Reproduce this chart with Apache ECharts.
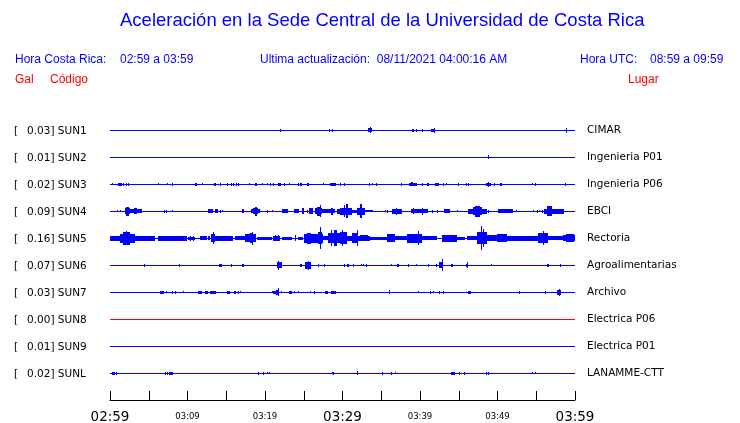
<!DOCTYPE html>
<html><head><meta charset="utf-8">
<script src="https://cdn.jsdelivr.net/npm/echarts@6/dist/echarts.min.js"></script>
<style>html,body{margin:0;padding:0;background:#fff}#c{width:740px;height:423px}</style>
</head><body><div id="c"></div>
<script>
const codes = ['SUN1','SUN2','SUN3','SUN4','SUN5','SUN6','SUN7','SUN8','SUN9','SUNL'];
const peaks = ['0.03','0.01','0.02','0.09','0.16','0.07','0.03','0.00','0.01','0.02'];
const places = ['CIMAR','Ingenieria P01','Ingenieria P06','EBCI','Rectoria','Agroalimentarias','Archivo','Electrica P06','Electrica P01','LANAMME-CTT'];
const timeLabels = ['02:59','03:09','03:19','03:29','03:39','03:49','03:59'];
const traceColors = ['#0000ff','#0000ff','#0000ff','#0000ff','#0000ff','#0000ff','#0000ff','#ff0000','#0000ff','#0000ff'];

// events: [start minute, end minute, half amplitude]
const sun1 = [[21.98,21.98,1.5],[28.2,28.4,1.3],[28.6,28.6,1.3],[33.3,33.75,2],[33.5,33.5,3],[38.97,39.2,1.5],[39.5,39.5,1.5],[40.2,40.2,1.5],[41.4,41.8,1.5],[41.75,41.75,2.5],[58.8,58.8,2.5]];
const sun2 = [[48.8,48.8,1.8]];
const sun3 = [[0.30,0.30,1],[0.99,1.51,1.5],[1.72,1.72,1.5],[2.02,2.11,1.5],[2.28,2.28,1.5],[6.24,6.24,1],[7.31,7.31,1],[7.96,7.96,1.5],[10.97,11.18,1.5],[11.91,11.91,1],[13.46,13.63,1.5],[14.15,14.15,1.5],[15.14,15.14,1.5],[15.57,15.57,1.5],[15.83,15.96,1.5],[16.26,16.26,1.5],[16.56,16.56,1.5],[17.98,17.98,1],[18.71,18.92,1.5],[19.57,19.57,1],[20.22,20.22,1],[20.65,20.73,1.5],[21.08,21.08,1.5],[21.63,22.02,1.5],[22.41,22.41,1.5],[23.14,23.14,1],[24.22,24.22,1.5],[24.52,24.73,1.5],[25.42,25.72,1.5],[27.44,27.44,1],[28.43,29.2,1.5],[29.63,29.63,1.5],[30.15,30.15,1.5],[33.46,33.46,1.5],[33.85,33.85,1],[34.32,34.32,1.5],[37.59,37.59,1.5],[38.62,39.66,1.5],[38.9,39.1,2],[40.3,40.3,1.5],[40.9,41.1,1.5],[41.98,42.41,1.5],[42.92,42.92,1.5],[43.35,43.35,1],[44.95,44.95,1.5],[45.94,45.94,1.5],[46.24,46.24,1.5],[48.52,49.12,1.5],[48.75,48.95,2.5],[49.59,49.59,1.5],[50.32,50.58,1.5],[54.49,54.49,1],[54.8,54.8,1.5],[58.67,58.67,1.5]];
const sun4 = [[0.9,0.9,1],[1.25,1.25,1],[1.94,2.58,3],[2.1,2.4,4.5],[2.58,4.09,2],[3.14,3.44,3],[7.01,7.01,1.5],[7.23,7.23,1.5],[7.96,7.96,1],[12.6,13.33,2],[13.55,13.89,2],[14.19,14.19,1.5],[14.49,14.49,1],[16.99,17.25,2],[18.19,19.35,2],[18.5,19.1,3],[18.71,19.01,4.5],[20.3,20.3,1.5],[20.86,20.86,1],[22.24,22.92,2],[23.78,24.43,2],[24.73,24.99,3],[25.42,25.42,1.5],[25.68,26.24,3],[26.45,27.31,3],[26.7,27.2,4.5],[27.05,27.15,6],[27.31,29.03,2],[28.51,28.72,3.5],[29.33,30.32,2.5],[30.15,30.32,6],[29.68,31.18,3.5],[30.45,30.75,7],[31.18,31.83,1.5],[31.83,32.9,3.5],[32.26,32.47,7],[32.9,33.98,1],[35.48,35.48,1],[35.7,35.7,1.5],[36.38,37.72,2.5],[36.86,37.08,3.5],[38.8,41.08,2],[39.14,39.14,3],[40.22,40.43,3.5],[41.59,41.59,1.5],[42.15,42.15,1.5],[43.1,43.87,2],[44.73,44.73,1],[46.24,48.6,2.5],[46.8,48.0,4],[47.1,47.74,5.5],[48.73,48.73,1.5],[50.11,52.04,2],[52.39,52.39,1],[54.54,54.54,1],[55.05,55.05,1.5],[55.4,55.4,1],[55.7,55.7,1.5],[56.0,58.58,2.5],[56.34,56.99,5]];
const sun5 = [[0,5.81,2.5],[1.29,3.23,4.5],[1.72,2.58,6.5],[2.0,2.1,7],[6.15,9.89,2.5],[10.0,10.97,1.5],[10.3,10.3,2.5],[10.7,10.7,2.5],[11.61,12.47,2],[12.7,12.85,2],[13.03,13.55,4],[13.33,13.33,6],[13.55,15.91,2.5],[16.13,17.42,2],[17.42,18.8,4],[18.0,18.5,5],[18.28,18.28,6.5],[18.92,20.86,1.5],[21.08,21.94,2.5],[21.3,21.3,3],[21.7,21.7,3],[22.15,23.44,1.5],[23.87,23.87,3],[24.3,24.94,1.5],[25.08,26.45,4.5],[25.4,25.9,5.5],[26.45,27.53,4.5],[26.8,27.3,6],[27.09,27.17,11],[27.53,28.17,2],[28.17,30.32,5],[28.47,28.47,8],[28.94,29.24,8],[29.68,30.54,6],[29.9,29.95,8],[30.54,31.18,2.5],[31.18,32.04,5],[31.83,31.83,8],[32.04,33.55,2.5],[32.3,33.3,3],[33.55,35.7,1.5],[35.7,36.77,4],[36.77,38.28,2],[38.28,40.22,4.5],[39.78,39.78,7],[40.22,42.15,2],[42.8,44.73,3.5],[44.73,45.81,1.5],[46.02,47.31,2],[47.31,48.6,6],[47.87,47.87,12],[48.17,48.17,9],[48.6,49.89,3],[49.89,51.18,4],[51.18,55.27,2.5],[55.27,56.56,5],[55.91,55.91,7],[56.56,58.49,2],[58.49,60,3],[58.9,59.9,4]];
const sun6 = [[4.43,4.43,1.5],[8.9,8.9,1.5],[14.06,14.41,1.5],[15.66,15.66,1.5],[17.08,17.33,1.5],[21.51,22.15,3],[21.72,21.72,4.5],[24.56,24.73,1.5],[25.16,25.94,3.5],[25.5,25.5,4.5],[26.88,26.88,1.5],[27.66,27.66,1.5],[30.15,30.15,1.5],[30.62,30.88,1.5],[31.31,31.31,1.5],[32.34,32.34,1],[32.69,32.69,1],[33.03,33.2,1.5],[36.26,36.26,1],[37.07,37.25,1.5],[38.41,38.54,1.5],[39.44,39.44,1],[41.08,41.21,1.5],[42.02,42.15,1.5],[42.41,43.01,3],[42.84,42.84,6],[44.04,44.21,1.5],[45.89,45.89,1.5],[46.02,46.24,2],[46.1,46.1,3],[49.16,49.16,1],[56.34,56.65,1.5],[58.11,58.11,1.5]];
const sun7 = [[6.49,6.93,1.5],[7.27,7.27,1],[8.04,8.04,1.5],[8.43,8.43,1.5],[9.46,9.46,1],[11.4,11.83,1.5],[12.26,12.6,1.5],[12.95,13.63,1.5],[15.05,15.44,1.5],[16.0,16.2,1.5],[16.52,16.52,1.5],[16.77,16.77,1],[20.86,20.86,1],[21.08,21.38,1.5],[21.46,21.81,2.5],[21.63,21.63,4],[22.02,22.02,1],[23.1,23.44,1.5],[23.78,23.78,1],[24.22,24.22,1],[25.85,25.85,1],[26.32,26.32,1.5],[27.74,28.09,1.5],[28.51,29.12,1.5],[36.0,36.0,2],[39.78,39.78,1],[41.29,41.29,1.5],[41.72,41.72,1],[42.41,42.41,1.5],[42.92,42.92,1.5],[46.15,46.54,1.5],[52.73,52.73,1.5],[56.13,56.13,1.5],[57.72,58.15,2.5],[57.9,57.9,3.5]];
const sun8 = [];
const sun9 = [];
const sunL = [[0.22,0.65,1.5],[0.82,0.82,1.5],[7.14,7.14,1.5],[7.4,7.4,1.5],[7.66,8.09,1.5],[19.14,19.14,1.5],[19.7,19.7,1.5],[20.3,20.3,1],[20.52,20.52,1],[28.6,28.6,1],[28.82,28.82,1.5],[31.91,31.91,2],[35.14,35.14,1.5],[36.3,36.3,1.5],[36.77,36.77,1],[44.0,44.52,1.5],[44.99,44.99,1.5],[45.68,45.85,1.5],[48.52,48.52,1.5],[48.77,48.77,1.5],[54.49,54.49,1],[54.83,54.83,1]];
const traces = [sun1,sun2,sun3,sun4,sun5,sun6,sun7,sun8,sun9,sunL];

const SPACING = 27;
const N = codes.length;
const baseOf = i => SPACING * (N - i);

const series = [];
traces.forEach((ev, i) => {
  const b = baseOf(i);
  const col = traceColors[i];
  series.push({
    type: 'custom', xAxisIndex: 0, yAxisIndex: 0, silent: true,
    data: [[0, 60, 0]].concat(ev), encode: { x: [0, 1] },
    renderItem: function (params, api) {
      const s = api.value(0), e = api.value(1), a = api.value(2);
      const pc = api.coord([s, b]);
      const pt = api.coord([s, b + a]);
      const pe = api.coord([e, b]);
      const aPx = pc[1] - pt[1];
      const c = Math.floor(pc[1]);
      const h = Math.max(1, Math.round(2 * aPx));
      const y = c - Math.floor(h / 2);
      const x = Math.round(pc[0]);
      const w = Math.max(1, Math.round(pe[0]) - x);
      return { type: 'rect', shape: { x: x, y: y, width: w, height: h }, style: { fill: col } };
    }
  });
});

const labelIndex = v => { const k = Math.round(v / SPACING); return (k >= 1 && k <= N) ? N - k : -1; };

const chart = echarts.init(document.getElementById('c'), null, { renderer: 'canvas' });
chart.setOption({
  animation: false,
  backgroundColor: '#ffffff',
  grid: { left: 110, right: 165, top: 103, bottom: 23, containLabel: false, outerBoundsMode: 'none' },
  xAxis: {
    type: 'value', min: 0, max: 60, interval: 5, offset: 9,
    axisLine: { show: true, lineStyle: { color: '#000', width: 1 } },
    axisTick: { show: true, inside: true, length: 9, lineStyle: { color: '#000', width: 1 } },
    splitLine: { show: false },
    axisLabel: {
      margin: 1, showMinLabel: true, showMaxLabel: true, hideOverlap: false,
      formatter: v => { if (v % 10 !== 0) return ''; const k = v / 10; const s = timeLabels[k]; return (k % 3 === 0) ? '{big|' + s + '}' : '{sm|' + s + '}'; },
      rich: {
        big: { fontFamily: 'DejaVu Sans', fontSize: 13.5, color: '#000', lineHeight: 15 },
        sm: { fontFamily: 'DejaVu Sans', fontSize: 8.5, color: '#000', lineHeight: 15, padding: [0,0,2,0] }
      }
    }
  },
  yAxis: [
    {
      type: 'value', min: 0, max: SPACING * (N + 1), interval: SPACING, position: 'left',
      axisLine: { show: false }, axisTick: { show: false }, splitLine: { show: false },
      axisLabel: {
        align: 'left', margin: 96, showMinLabel: true, showMaxLabel: true, hideOverlap: false,
        formatter: v => { const i = labelIndex(v); return i < 0 ? '' : '{a|[}{b|' + peaks[i] + '] ' + codes[i] + '}'; },
        rich: {
          a: { fontFamily: 'DejaVu Sans', fontSize: 10.5, color: '#000', width: 13, padding: [2,0,0,0] },
          b: { fontFamily: 'DejaVu Sans', fontSize: 10.5, color: '#000', padding: [2,0,0,0] }
        }
      }
    },
    {
      type: 'value', min: 0, max: SPACING * (N + 1), interval: SPACING, position: 'right',
      axisLine: { show: false }, axisTick: { show: false }, splitLine: { show: false },
      axisLabel: {
        margin: 12, showMinLabel: true, showMaxLabel: true, hideOverlap: false,
        fontFamily: 'DejaVu Sans', fontSize: 10.5, color: '#000', padding: [2,0,0,0],
        formatter: v => { const i = labelIndex(v); return i < 0 ? '' : places[i]; }
      }
    }
  ],
  graphic: [
    { type: 'text', left: 120, top: 11, style: { text: 'Aceleración en la Sede Central de la Universidad de Costa Rica', fill: '#0000ff', font: '18.5px "Liberation Sans"' } },
    { type: 'text', left: 15, top: 54, style: { text: 'Hora Costa Rica:', fill: '#0000ff', font: '12px "Liberation Sans"' } },
    { type: 'text', left: 120, top: 54, style: { text: '02:59 a 03:59', fill: '#0000ff', font: '12px "Liberation Sans"' } },
    { type: 'text', left: 260, top: 54, style: { text: 'Ultima actualización:  08/11/2021 04:00:16 AM', fill: '#0000ff', font: '12px "Liberation Sans"' } },
    { type: 'text', left: 580, top: 54, style: { text: 'Hora UTC:', fill: '#0000ff', font: '12px "Liberation Sans"' } },
    { type: 'text', left: 650, top: 54, style: { text: '08:59 a 09:59', fill: '#0000ff', font: '12px "Liberation Sans"' } },
    { type: 'text', left: 15, top: 74, style: { text: 'Gal', fill: '#ff0000', font: '12px "Liberation Sans"' } },
    { type: 'text', left: 50, top: 74, style: { text: 'Código', fill: '#ff0000', font: '12px "Liberation Sans"' } },
    { type: 'text', left: 628, top: 74, style: { text: 'Lugar', fill: '#ff0000', font: '12px "Liberation Sans"' } }
  ],
  series: series
});
</script></body></html>
